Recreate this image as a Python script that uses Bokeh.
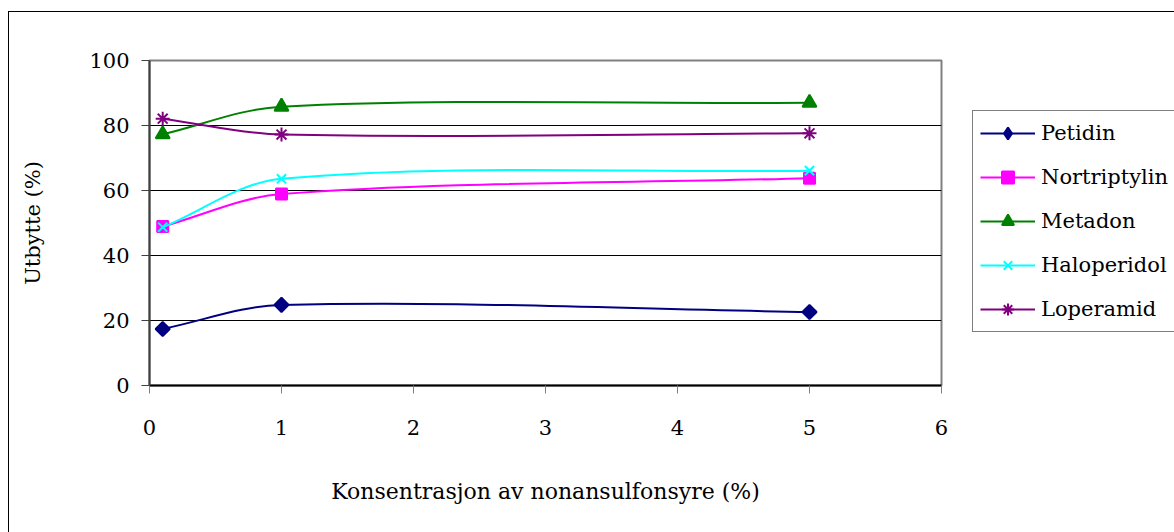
import numpy as np
from bokeh.plotting import figure
from bokeh.layouts import row
from bokeh.models import FixedTicker, Legend, LegendItem, Range1d
from bokeh.embed import file_html
from bokeh.resources import INLINE

# ---- data ----
konsentrasjon = [0.1, 1, 5]
petidin = [17.4, 24.8, 22.6]
nortriptylin = [48.9, 58.9, 63.8]
metadon = [77.3, 85.8, 87.0]
haloperidol = [48.7, 63.6, 66.1]
loperamid = [82.1, 77.2, 77.6]

series_names = ["Petidin", "Nortriptylin", "Metadon", "Haloperidol", "Loperamid"]
series_values = [petidin, nortriptylin, metadon, haloperidol, loperamid]
colors = ["#000080", "#FF00FF", "#008000", "#00FFFF", "#800080"]
markers = ["square", "square", "triangle", "x", "asterisk"]
legend_markers = ["diamond", "square", "triangle", "x", "asterisk"]
marker_sizes = [10, 11, 14, 13, 14]
marker_angles = [np.pi / 4, 0, 0, 0, 0]

x_ticks = [0, 1, 2, 3, 4, 5, 6]
y_ticks = [0, 20, 40, 60, 80, 100]
grid_ticks = [20, 40, 60, 80]

FONT = "DejaVu Serif"
FS = "21px"

FRAME_W, FRAME_H = 792, 325
X0, X1, Y0, Y1 = 0, 6, 0, 100

p = figure(width=940, height=521, output_backend="svg", toolbar_location=None,
           x_range=Range1d(X0, X1), y_range=Range1d(Y0, Y1),
           min_border_left=140, min_border_right=8, min_border_top=48,
           min_border_bottom=148,
           margin=(11, 0, 0, 8),
           styles={"border-left": "1px solid black", "border-top": "1px solid black"})
p.background_fill_color = "white"
p.border_fill_color = "white"
p.outline_line_color = "#808080"
p.outline_line_width = 2

p.xgrid.visible = False
p.ygrid.ticker = FixedTicker(ticks=grid_ticks)
p.ygrid.grid_line_color = "black"
p.ygrid.grid_line_width = 1

p.xaxis.ticker = FixedTicker(ticks=x_ticks)
p.yaxis.ticker = FixedTicker(ticks=y_ticks)
for ax in (p.xaxis[0], p.yaxis[0]):
    ax.major_label_text_font = FONT
    ax.major_label_text_font_size = FS
    ax.major_label_text_color = "black"
    ax.axis_label_text_font = FONT
    ax.axis_label_text_font_size = FS
    ax.axis_label_text_font_style = "normal"
    ax.axis_label_text_color = "black"
    ax.minor_tick_line_color = None
    ax.major_tick_in = 0
    ax.major_tick_out = 8
    ax.axis_line_width = 2
    ax.major_tick_line_width = 1

p.xaxis.axis_label_text_font_size = "22px"
p.xaxis.axis_line_color = "black"
p.xaxis.major_tick_line_color = "#808080"
p.yaxis.axis_line_color = "#404040"
p.yaxis.major_tick_line_color = "#404040"
p.xaxis.axis_label = "Konsentrasjon av nonansulfonsyre (%)"
p.yaxis.axis_label = "Utbytte (%)"
p.xaxis.major_label_standoff = 26
p.yaxis.major_label_standoff = 12
p.xaxis.axis_label_standoff = 41
p.yaxis.axis_label_standoff = 41

# screen scale (px per data unit), used only to shape the smoothed line
SX = FRAME_W / (X1 - X0)
SY = FRAME_H / (Y1 - Y0)


def smooth_controls(xs, ys):
    """Excel-style smoothed line: cubic Bezier control points per segment,
    tangent from neighbouring points, handle = 1/3 of segment length (screen)."""
    P = np.column_stack([np.asarray(xs, float) * SX, np.asarray(ys, float) * SY])
    n = len(P)

    def tangent(i):
        a = P[max(i - 1, 0)]
        b = P[min(i + 1, n - 1)]
        d = b - a
        return d / np.hypot(*d)

    out = {k: [] for k in ("x0", "y0", "x1", "y1", "cx0", "cy0", "cx1", "cy1")}
    for i in range(n - 1):
        p1, p2 = P[i], P[i + 1]
        L = np.hypot(*(p2 - p1)) / 3.0
        c1 = p1 + tangent(i) * L
        c2 = p2 - tangent(i + 1) * L
        out["x0"].append(p1[0] / SX); out["y0"].append(p1[1] / SY)
        out["x1"].append(p2[0] / SX); out["y1"].append(p2[1] / SY)
        out["cx0"].append(c1[0] / SX); out["cy0"].append(c1[1] / SY)
        out["cx1"].append(c2[0] / SX); out["cy1"].append(c2[1] / SY)
    return out


# legend-only figure to the right of the plot (its frame aligns with p's frame)
p2 = figure(width=226, height=521, output_backend="svg", toolbar_location=None,
            x_range=Range1d(0, 1), y_range=Range1d(0, 1),
            x_axis_type=None, y_axis_type=None,
            min_border_left=0, min_border_right=0, min_border_top=0,
            min_border_bottom=0, margin=(11, 0, 0, 0),
            styles={"border-top": "1px solid black"})
p2.outline_line_color = None
p2.grid.visible = False
p2.background_fill_color = "white"
p2.border_fill_color = "white"

items = []
for name, vals, col, mk, lmk, ms, ang in zip(series_names, series_values, colors,
                                              markers, legend_markers,
                                              marker_sizes, marker_angles):
    c = smooth_controls(konsentrasjon, vals)
    p.bezier(x0=c["x0"], y0=c["y0"], x1=c["x1"], y1=c["y1"],
             cx0=c["cx0"], cy0=c["cy0"], cx1=c["cx1"], cy1=c["cy1"],
             line_color=col, line_width=2)
    p.scatter(konsentrasjon, vals, marker=mk, size=ms, angle=ang,
              fill_color=col, line_color=col, line_width=2)
    # legend proxies (not drawn in the plot)
    l_line = p2.line(konsentrasjon, vals, line_color=col, line_width=2, visible=False)
    l_pts = p2.scatter(konsentrasjon, vals, marker=lmk, size=ms,
                       fill_color=col, line_color=col, line_width=2, visible=False)
    items.append(LegendItem(label=name, renderers=[l_line, l_pts]))

legend = Legend(items=items, location=(24, 53))
legend.label_text_font = FONT
legend.label_text_font_size = FS
legend.label_text_color = "black"
legend.glyph_width = 55
legend.glyph_height = 30
legend.label_height = 30
legend.label_standoff = 6
legend.padding = 7
legend.spacing = 14
legend.margin = 0
legend.border_line_color = "black"
legend.border_line_width = 1
legend.background_fill_color = "white"
legend.background_fill_alpha = 1
p2.add_layout(legend, "center")

layout = row(p, p2, spacing=0)
open("out.html", "w").write(file_html(layout, INLINE))
